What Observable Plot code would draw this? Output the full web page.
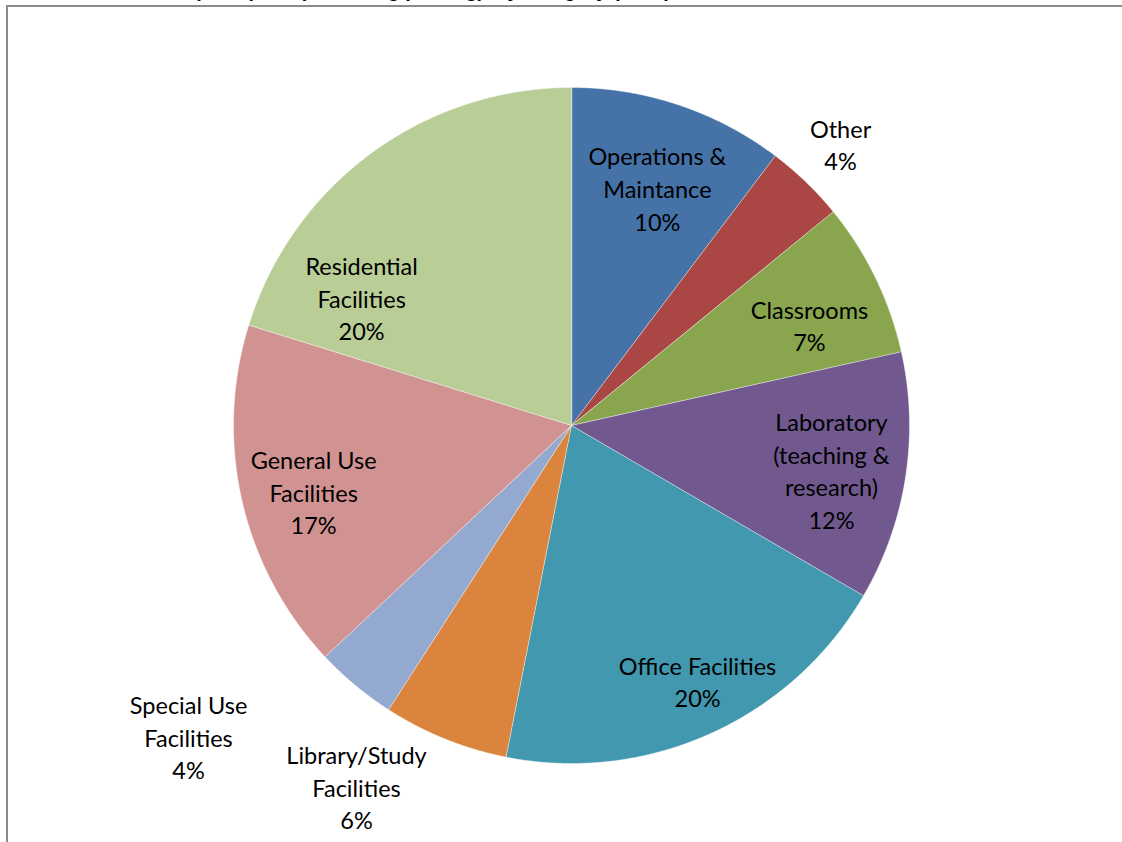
<!DOCTYPE html>
<html>
<head>
<meta charset="utf-8">
<script src="https://cdn.jsdelivr.net/npm/d3@7"></script>
<script src="https://cdn.jsdelivr.net/npm/@observablehq/plot@0.6"></script>
<style>
  html, body { margin: 0; padding: 0; background: #fff; overflow: hidden; }
  #wrap { position: relative; width: 1122px; height: 842px; overflow: hidden; }
  #border { position: absolute; left: 6px; top: 5px; width: 3000px; height: 3000px;
            border-left: 2px solid #8a8a8a; border-top: 2px solid #8a8a8a; }
  #title { position: absolute; left: 14px; top: -20px; font: bold 20px "Liberation Sans", sans-serif;
           line-height: 20px; white-space: nowrap; color: #000; }
  #chart { position: absolute; left: 0; top: 0; }
</style>
</head>
<body>
<div id="wrap">
  <div id="title">Distribution of campus space (excluding parking), by category (2012)</div>
  <div id="border"></div>
  <div id="chart"></div>
</div>
<script>
// Data (clockwise from 12 o'clock)
const categories = [
  "Operations & Maintance", "Other", "Classrooms", "Laboratory (teaching & research)",
  "Office Facilities", "Library/Study Facilities", "Special Use Facilities",
  "General Use Facilities", "Residential Facilities"
];
const values = [10.3, 3.8, 7.4, 11.9, 19.7, 6.0, 3.9, 16.8, 20.2];
const labelLines = [
  ["Operations &", "Maintance"], ["Other"], ["Classrooms"],
  ["Laboratory", "(teaching &", "research)"], ["Office Facilities"],
  ["Library/Study", "Facilities"], ["Special Use", "Facilities"],
  ["General Use", "Facilities"], ["Residential", "Facilities"]
];
const colors = ["#4572A7", "#AA4643", "#89A54E", "#71588F", "#4198AF",
                "#DB843D", "#93A9CF", "#D19392", "#B9CD96"];
// label anchor positions in pie-radius units (Excel's placement)
const labelX = [0.254, 0.796, 0.704, 0.769, 0.373, -0.636, -1.133, -0.763, -0.621];
const labelY = [0.695, 0.825, 0.290, -0.139, -0.763, -1.077, -0.929, -0.204, 0.370];

// Build slice outlines (polygon: centre + arc) in unit coordinates
const total = d3.sum(values);
const slicePts = [];
let acc = 0;
categories.forEach((c, i) => {
  const a0 = acc / total * 2 * Math.PI;
  acc += values[i];
  const a1 = acc / total * 2 * Math.PI;
  slicePts.push({cat: c, x: 0, y: 0});
  const n = Math.max(2, Math.ceil((a1 - a0) / 0.005));
  for (let k = 0; k <= n; k++) {
    const a = a0 + (a1 - a0) * k / n;
    slicePts.push({cat: c, x: Math.sin(a), y: Math.cos(a)});
  }
});

const labels = categories.map((c, i) => ({
  cat: c,
  x: labelX[i],
  y: labelY[i],
  text: [...labelLines[i], Math.round(values[i]) + "%"].join("\n")
}));

const chart = Plot.plot({
  width: 1122,
  height: 842,
  margin: 0,
  style: {background: "transparent", overflow: "visible"},
  x: {domain: [-1, 1], range: [233, 909], axis: null},
  y: {domain: [-1, 1], range: [763, 87], axis: null},
  color: {domain: categories, range: colors},
  marks: [
    Plot.line(slicePts, {x: "x", y: "y", z: "cat", fill: "cat", stroke: "#ffffff",
      strokeWidth: 0.6, strokeOpacity: 0.7, curve: "linear-closed"}),
    Plot.text(labels, {x: "x", y: "y", text: "text", fill: "#000", dy: -3,
      fontSize: 23.5, lineHeight: 1.385, fontFamily: "Lato, 'Open Sans', sans-serif", textAnchor: "middle"})
  ]
});
document.getElementById("chart").appendChild(chart);
</script>
</body>
</html>
